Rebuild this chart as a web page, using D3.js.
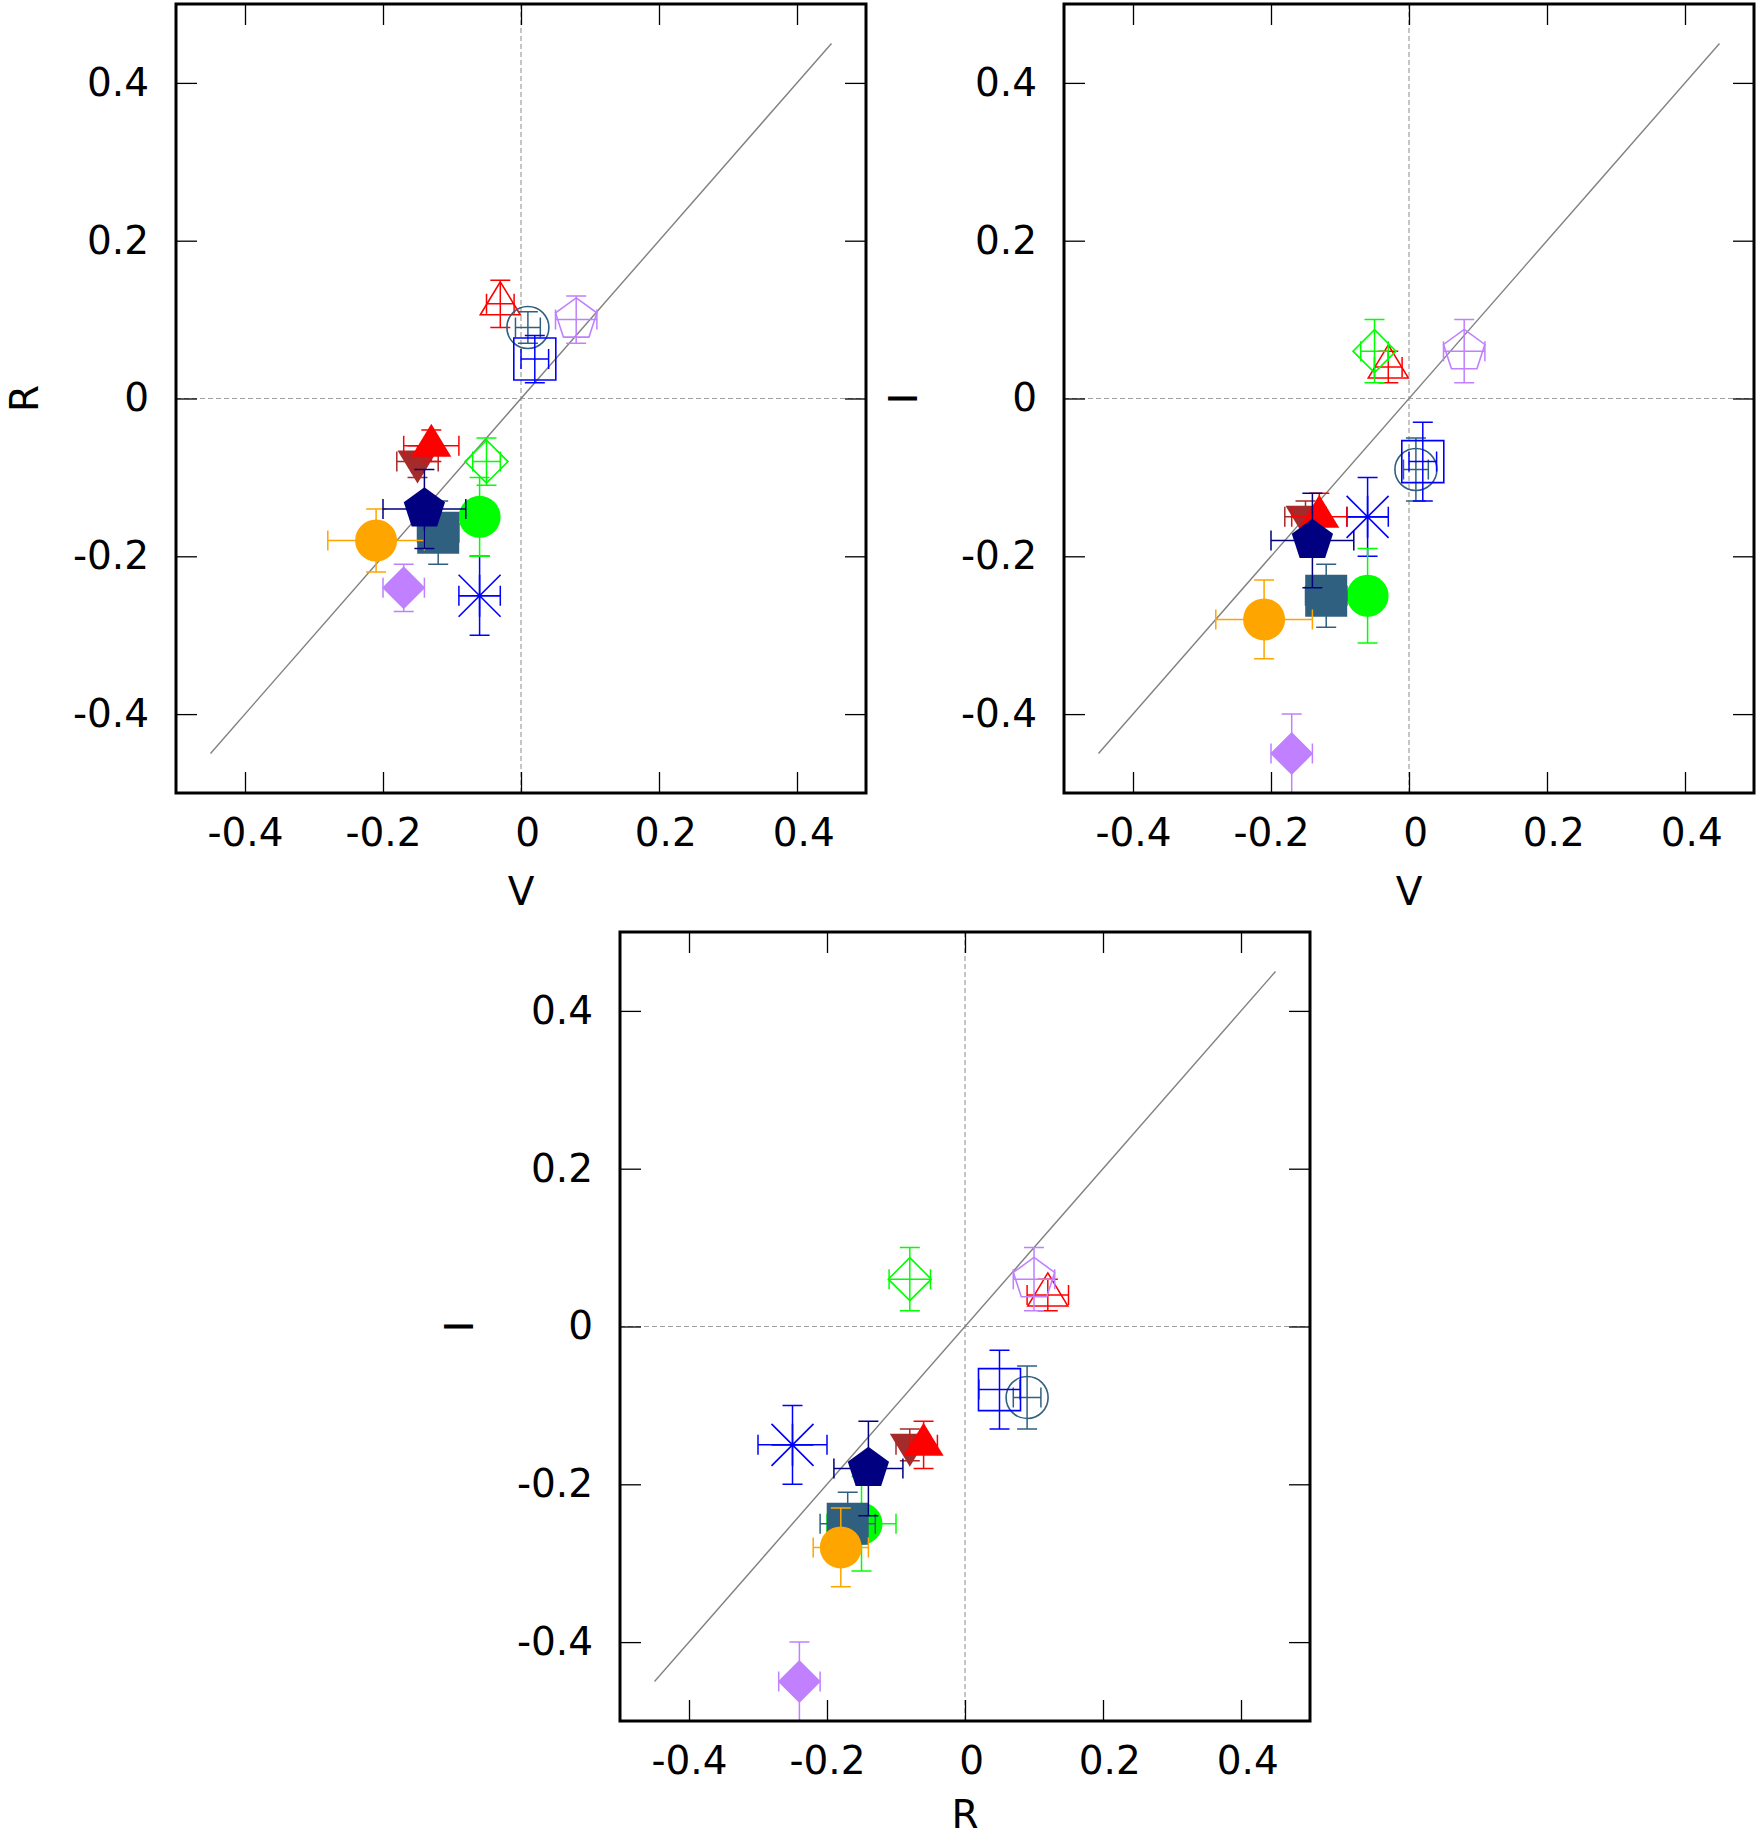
<!DOCTYPE html>
<html lang="en">
<head>
<meta charset="utf-8">
<title>V, R and I offsets</title>
<script src="https://d3js.org/d3.v7.min.js"></script>
<style>
  body { margin: 0; background: #fff; }
  text { font-family: "DejaVu Sans", sans-serif; }
</style>
</head>
<body>
<script>
// one entry per object, in plotting order
const shapes = ["triangle", "circle", "pentagon", "square", "diamond", "asterisk", "diamond",
                "triangleDown", "triangle", "circle", "square", "circle", "pentagon"];
const filled = [false, false, false, false, false, false, true, true, true, true, true, true, true];
const colors = ["#ff0000", "#306080", "#c080ff", "#0000ff", "#00ff00", "#0000ff", "#c080ff",
                "#a52a2a", "#ff0000", "#00ff00", "#306080", "#ffa500", "#000080"];

const V  = [-0.03, 0.01, 0.08, 0.02, -0.05, -0.06, -0.17, -0.15, -0.13, -0.06, -0.12, -0.21, -0.14];
const eV = [0.02, 0.018, 0.03, 0.02, 0.02, 0.03, 0.03, 0.03, 0.04, 0.02, 0.03, 0.07, 0.06];
const R  = [0.12, 0.09, 0.10, 0.05, -0.08, -0.25, -0.24, -0.08, -0.06, -0.15, -0.17, -0.18, -0.14];
const eR = [0.03, 0.02, 0.03, 0.03, 0.03, 0.05, 0.03, 0.02, 0.02, 0.05, 0.04, 0.04, 0.05];
const I  = [0.04, -0.09, 0.06, -0.08, 0.06, -0.15, -0.45, -0.15, -0.15, -0.25, -0.25, -0.28, -0.18];
const eI = [0.02, 0.04, 0.04, 0.05, 0.04, 0.05, 0.05, 0.02, 0.03, 0.06, 0.04, 0.05, 0.06];

const tickValues = [-0.4, -0.2, 0, 0.2, 0.4];
const tickLabels = ["-0.4", "-0.2", "0", "0.2", "0.4"];
const diagonal = [-0.45, 0.45];

const bands = { V: V, R: R, I: I };
const errs = { V: eV, R: eR, I: eI };

// layout
const W = 1758, H = 1838;
const pw = 690, ph = 789;
const fontSize = 39;
const panels = [
  { left: 176, top: 4, xKey: "V", yKey: "R" },
  { left: 1064, top: 4, xKey: "V", yKey: "I" },
  { left: 620, top: 932, xKey: "R", yKey: "I" }
];

const svg = d3.select("body").append("svg")
  .attr("width", W)
  .attr("height", H);

// marker outlines centred on 0,0
function markerPath(shape) {
  const p = d3.path();
  if (shape === "circle") {
    p.moveTo(21, 0);
    p.arc(0, 0, 21, 0, 2 * Math.PI);
    p.closePath();
  } else if (shape === "square") {
    p.rect(-21, -21, 42, 42);
  } else if (shape === "diamond") {
    p.moveTo(0, -21.5); p.lineTo(21.5, 0); p.lineTo(0, 21.5); p.lineTo(-21.5, 0); p.closePath();
  } else if (shape === "triangle" || shape === "triangleDown") {
    const s = shape === "triangle" ? 1 : -1;
    p.moveTo(0, -22 * s); p.lineTo(20, 11 * s); p.lineTo(-20, 11 * s); p.closePath();
  } else if (shape === "pentagon") {
    for (let k = 0; k < 5; k++) {
      const a = -Math.PI / 2 + k * 2 * Math.PI / 5;
      const px = 21.7 * Math.cos(a), py = 21.7 * Math.sin(a);
      if (k === 0) p.moveTo(px, py); else p.lineTo(px, py);
    }
    p.closePath();
  } else if (shape === "asterisk") {
    p.moveTo(-21, 0); p.lineTo(21, 0);
    p.moveTo(0, -21); p.lineTo(0, 21);
    p.moveTo(-21, -21); p.lineTo(21, 21);
    p.moveTo(-21, 21); p.lineTo(21, -21);
  }
  return p.toString();
}

panels.forEach(pan => {
  const x = d3.scaleLinear().domain([-0.5, 0.5]).range([pan.left, pan.left + pw]);
  const y = d3.scaleLinear().domain([-0.5, 0.5]).range([pan.top + ph, pan.top]);
  const xs = bands[pan.xKey], ys = bands[pan.yKey];
  const exs = errs[pan.xKey], eys = errs[pan.yKey];

  const g = svg.append("g");

  // zero lines
  g.append("line")
    .attr("x1", x(0)).attr("x2", x(0))
    .attr("y1", y(-0.5)).attr("y2", y(0.5))
    .attr("stroke", "#a0a0a0").attr("stroke-width", 1.2)
    .attr("stroke-dasharray", "5,3");
  g.append("line")
    .attr("x1", x(-0.5)).attr("x2", x(0.5))
    .attr("y1", y(0)).attr("y2", y(0))
    .attr("stroke", "#a0a0a0").attr("stroke-width", 1.2)
    .attr("stroke-dasharray", "5,3");

  // one-to-one line
  g.append("line")
    .attr("x1", x(diagonal[0])).attr("y1", y(diagonal[0]))
    .attr("x2", x(diagonal[1])).attr("y2", y(diagonal[1]))
    .attr("stroke", "#808080").attr("stroke-width", 1.4);

  // error bars then point, object by object
  xs.forEach((xv, i) => {
    const cx = x(xv), cy = y(ys[i]);
    const col = colors[i];
    const eb = g.append("g")
      .attr("stroke", col)
      .attr("stroke-width", 1.5)
      .attr("fill", "none");
    const x1 = x(xv - exs[i]), x2 = x(xv + exs[i]);
    const y1 = y(ys[i] - eys[i]), y2 = y(ys[i] + eys[i]);
    eb.append("path")
      .attr("d", `M${x1},${cy}H${x2}M${x1},${cy - 10}V${cy + 10}M${x2},${cy - 10}V${cy + 10}` +
                 `M${cx},${y1}V${y2}M${cx - 10},${y1}H${cx + 10}M${cx - 10},${y2}H${cx + 10}`);

    g.append("path")
      .attr("transform", `translate(${cx},${cy})`)
      .attr("d", markerPath(shapes[i]))
      .attr("fill", filled[i] ? col : "none")
      .attr("stroke", filled[i] ? "none" : col)
      .attr("stroke-width", 1.6);
  });

  // ticks on all four sides, pointing inward
  const fmt = d => tickLabels[tickValues.indexOf(d)];
  const bottom = g.append("g")
    .attr("transform", `translate(0,${pan.top + ph})`)
    .call(d3.axisBottom(x).tickValues(tickValues).tickFormat(fmt)
      .tickSizeInner(-21).tickSizeOuter(0).tickPadding(25));
  bottom.selectAll("text")
    .attr("dx", d => d < 0 ? 0 : "0.16em");
  g.append("g")
    .attr("transform", `translate(${pan.left},0)`)
    .call(d3.axisLeft(y).tickValues(tickValues).tickFormat(fmt)
      .tickSizeInner(-21).tickSizeOuter(0).tickPadding(27));
  g.append("g")
    .attr("transform", `translate(0,${pan.top})`)
    .call(d3.axisTop(x).tickValues(tickValues).tickFormat("")
      .tickSizeInner(-21).tickSizeOuter(0));
  g.append("g")
    .attr("transform", `translate(${pan.left + pw},0)`)
    .call(d3.axisRight(y).tickValues(tickValues).tickFormat("")
      .tickSizeInner(-21).tickSizeOuter(0));

  g.selectAll(".domain").remove();
  g.selectAll(".tick line").attr("stroke", "#000").attr("stroke-width", 1.3);
  g.selectAll(".tick text")
    .attr("fill", "#000")
    .style("font-size", fontSize + "px")
    .style("font-family", '"DejaVu Sans", sans-serif');

  // frame
  g.append("rect")
    .attr("x", pan.left).attr("y", pan.top)
    .attr("width", pw).attr("height", ph)
    .attr("fill", "none").attr("stroke", "#000").attr("stroke-width", 3);

  // axis titles, kept inside the page
  g.append("text")
    .attr("x", pan.left + pw / 2)
    .attr("y", Math.min(pan.top + ph + 112, H - 10))
    .attr("text-anchor", "middle")
    .style("font-size", fontSize + "px")
    .text(pan.xKey);
  g.append("text")
    .attr("transform", `translate(${Math.max(pan.left - 147, 38)},${pan.top + ph / 2}) rotate(-90)`)
    .attr("text-anchor", "middle")
    .style("font-size", fontSize + "px")
    .text(pan.yKey);
});
</script>
</body>
</html>
